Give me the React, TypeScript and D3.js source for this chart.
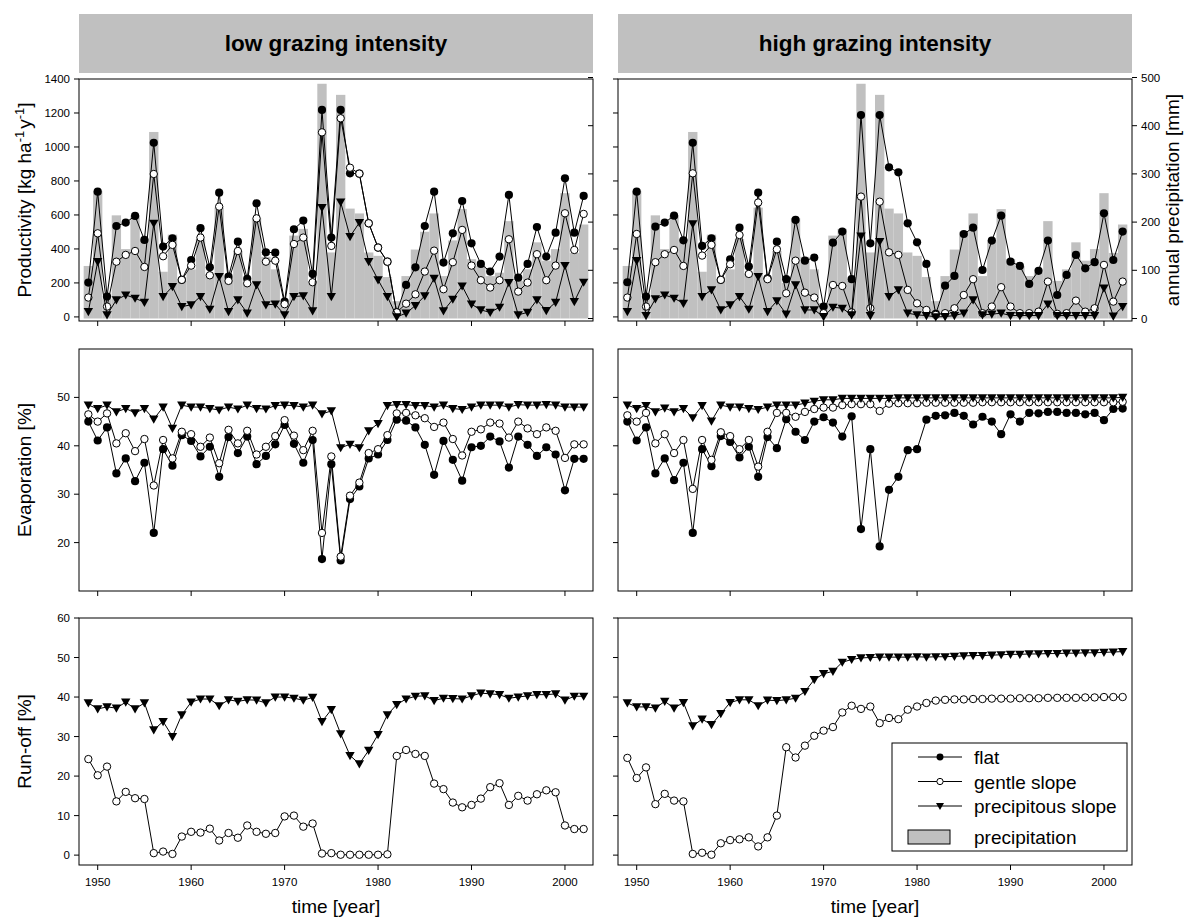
import React from "react";
import * as d3 from "d3";

// Years covered by the simulation
const years = d3.range(1949, 2003);

// Annual precipitation [mm] (same for both grazing scenarios)
const precipitation = [
  109, 265, 40, 214, 144, 214, 165, 387, 97, 174,
  78, 102, 165, 92, 230, 85, 140, 74, 208, 128,
  102, 32, 172, 186, 78, 487, 137, 464, 228, 218,
  137, 130, 86, 36, 88, 143, 180, 218, 88, 162,
  227, 123, 109, 88, 95, 202, 78, 102, 158, 120,
  144, 260, 136, 195,
];

// Productivity [kg ha-1 y-1], low grazing intensity
const prodFlatLow = [
  202, 737, 120, 535, 555, 594, 453, 1025, 414, 463,
  218, 335, 522, 292, 731, 237, 443, 224, 669, 380,
  378, 90, 516, 567, 253, 1218, 467, 1218, 845, 843,
  551, 408, 325, 27, 188, 292, 535, 737, 320, 492,
  682, 433, 312, 267, 355, 718, 231, 312, 529, 355,
  496, 816, 496, 712,
];
const prodGentleLow = [
  114, 492, 61, 325, 365, 388, 294, 841, 357, 424,
  218, 302, 467, 245, 649, 212, 388, 198, 580, 325,
  331, 75, 429, 467, 204, 1086, 418, 1169, 878, 843,
  551, 408, 325, 27, 78, 133, 267, 390, 163, 322,
  512, 302, 216, 173, 216, 457, 149, 202, 369, 216,
  302, 610, 394, 606,
];
const prodSteepLow = [
  31, 325, 12, 100, 129, 110, 86, 551, 120, 178,
  61, 71, 120, 45, 237, 31, 100, 22, 188, 71,
  75, 12, 120, 124, 35, 643, 120, 675, 473, 555,
  325, 218, 120, 0, 22, 67, 124, 227, 35, 104,
  182, 75, 41, 27, 57, 202, 12, 27, 100, 37,
  86, 302, 90, 204,
];

// Productivity [kg ha-1 y-1], high grazing intensity
const prodFlatHigh = [
  204, 737, 120, 531, 555, 596, 451, 1025, 418, 463,
  218, 339, 525, 296, 731, 227, 443, 222, 571, 331,
  349, 61, 437, 502, 222, 1188, 433, 1188, 880, 851,
  551, 439, 312, 18, 184, 241, 488, 525, 276, 449,
  596, 325, 300, 194, 271, 449, 129, 247, 365, 286,
  322, 610, 335, 502,
];
const prodGentleHigh = [
  114, 488, 61, 322, 369, 394, 300, 845, 361, 424,
  218, 310, 482, 253, 673, 222, 398, 139, 331, 143,
  114, 22, 188, 182, 27, 708, 51, 678, 380, 365,
  159, 80, 41, 12, 22, 51, 129, 222, 22, 61,
  175, 61, 22, 22, 31, 208, 18, 22, 96, 31,
  51, 306, 90, 208,
];
const prodSteepHigh = [
  31, 331, 8, 106, 129, 110, 80, 547, 120, 159,
  41, 71, 120, 45, 237, 31, 94, 16, 188, 41,
  41, 2, 57, 51, 12, 476, 8, 443, 120, 159,
  22, 12, 8, 0, 2, 8, 22, 100, 12, 16,
  22, 8, 8, 8, 8, 75, 8, 8, 8, 8,
  8, 170, 5, 61,
];

// Evaporation [%], low grazing intensity
const evapFlatLow = [
  45.0, 41.1, 43.8, 34.3, 37.4, 32.7, 36.5, 22.0, 39.3, 35.9,
  42.2, 41.0, 37.8, 39.8, 33.6, 41.8, 38.5, 41.9, 36.2, 37.9,
  40.3, 44.3, 40.4, 36.5, 41.2, 16.6, 36.2, 16.3, 29.0, 31.6,
  37.4, 38.2, 41.2, 45.4, 45.2, 43.8, 40.2, 34.0, 41.0, 37.1,
  32.8, 39.7, 40.0, 41.9, 40.9, 35.5, 41.9, 40.2, 37.9, 39.7,
  38.2, 30.8, 37.3, 37.3,
];
const evapGentleLow = [
  46.5, 45.0, 46.7, 40.5, 42.6, 38.9, 41.4, 31.8, 41.2, 37.4,
  42.9, 42.4, 39.8, 41.7, 36.4, 43.3, 40.5, 43.1, 38.2, 39.8,
  42.0, 45.3, 42.1, 39.1, 43.1, 22.0, 37.8, 17.1, 29.7, 32.4,
  38.5, 39.3, 42.2, 46.7, 46.8, 46.3, 45.7, 43.9, 44.8, 41.4,
  38.0, 42.9, 43.4, 44.8, 44.6, 41.7, 45.0, 43.6, 42.4, 43.8,
  43.1, 37.5, 40.3, 40.3,
];
const evapSteepLow = [
  48.4, 47.7, 48.4, 47.0, 47.7, 46.8, 47.7, 45.5, 48.0, 43.6,
  48.4, 48.0, 48.0, 47.7, 47.4, 48.0, 47.6, 48.4, 47.7, 47.6,
  48.3, 48.4, 48.3, 48.0, 48.4, 46.6, 47.2, 39.6, 40.3, 39.6,
  43.1, 44.6, 48.3, 48.5, 48.5, 48.3, 48.3, 48.0, 48.4, 47.7,
  47.5, 48.0, 48.4, 48.4, 48.4, 48.0, 48.5, 48.4, 48.4, 48.5,
  48.4, 48.0, 48.0, 48.0,
];

// Evaporation [%], high grazing intensity
const evapFlatHigh = [
  45.0, 41.1, 43.8, 34.3, 37.4, 32.9, 36.5, 22.0, 39.3, 35.8,
  42.0, 40.8, 37.6, 39.8, 33.6, 41.8, 39.5, 45.5, 42.9, 41.2,
  45.0, 45.9, 44.8, 41.9, 46.1, 22.8, 39.3, 19.2, 30.9, 33.6,
  39.1, 39.3, 45.4, 46.2, 46.3, 46.8, 46.2, 44.4, 46.0, 45.0,
  42.4, 46.5, 45.0, 46.8, 46.7, 47.0, 47.0, 46.8, 46.8, 46.5,
  46.8, 45.3, 47.6, 47.7,
];
const evapGentleHigh = [
  46.3, 45.0, 46.8, 40.5, 42.4, 38.5, 41.2, 31.1, 41.2, 37.1,
  42.8, 42.0, 39.3, 41.2, 35.7, 42.9, 46.8, 46.8, 46.0, 47.0,
  47.6, 47.9, 47.9, 48.4, 48.6, 48.6, 48.6, 47.2, 48.7, 48.8,
  48.8, 48.8, 48.9, 48.9, 48.9, 48.9, 48.9, 48.9, 49.0, 49.0,
  49.0, 49.0, 49.0, 49.0, 49.0, 49.0, 49.0, 49.0, 49.0, 49.0,
  49.0, 49.0, 49.0, 49.1,
];
const evapSteepHigh = [
  48.4, 47.7, 48.3, 47.0, 47.8, 47.0, 47.7, 45.8, 48.3, 45.1,
  48.4, 48.0, 48.0, 47.7, 47.5, 48.0, 48.4, 48.4, 48.4, 48.8,
  49.2, 49.5, 49.5, 49.8, 49.8, 49.8, 49.8, 49.8, 49.8, 49.9,
  49.9, 49.9, 49.9, 49.9, 49.9, 49.9, 49.9, 49.9, 49.9, 49.9,
  49.9, 49.9, 49.9, 49.9, 49.9, 49.9, 49.9, 49.9, 49.9, 49.9,
  49.9, 49.9, 49.9, 50.0,
];

// Run-off [%], low grazing intensity
const runGentleLow = [
  24.3, 20.2, 22.4, 13.6, 16.0, 14.4, 14.2, 0.5, 0.9, 0.3,
  4.7, 5.9, 5.7, 6.7, 3.7, 5.6, 4.4, 7.5, 5.9, 5.4,
  5.6, 9.8, 10.0, 7.2, 8.0, 0.4, 0.5, 0.1, 0.1, 0.1,
  0.1, 0.1, 0.2, 25.1, 26.6, 25.6, 25.1, 18.1, 16.7, 13.3,
  12.1, 12.7, 14.3, 17.2, 18.2, 12.7, 15.0, 13.8, 15.4, 16.4,
  15.9, 7.5, 6.6, 6.6,
];
const runSteepLow = [
  38.5, 37.0, 37.5, 37.2, 38.7, 37.0, 38.5, 31.7, 33.8, 30.0,
  35.5, 38.7, 39.5, 39.5, 37.8, 39.3, 38.9, 39.3, 39.2, 38.5,
  40.0, 40.0, 39.7, 39.2, 39.9, 33.8, 36.8, 30.7, 25.2, 23.1,
  26.5, 30.5, 35.5, 38.1, 39.5, 40.2, 40.3, 39.1, 39.7, 39.6,
  39.5, 40.3, 41.0, 40.8, 40.6, 39.7, 40.0, 40.3, 40.6, 40.6,
  40.8, 39.2, 40.2, 40.2,
];

// Run-off [%], high grazing intensity
const runGentleHigh = [
  24.6, 19.5, 22.2, 12.9, 15.5, 13.8, 13.6, 0.3, 0.6, 0.1,
  3.0, 3.8, 4.0, 4.5, 2.2, 4.5, 10.0, 27.3, 24.7, 27.7,
  30.2, 31.5, 32.4, 36.1, 37.8, 37.0, 37.6, 33.4, 34.7, 34.4,
  36.8, 37.6, 38.5, 39.1, 39.3, 39.4, 39.4, 39.5, 39.5, 39.6,
  39.6, 39.6, 39.7, 39.7, 39.7, 39.8, 39.8, 39.8, 39.8, 39.9,
  39.9, 40.0, 40.0, 40.0,
];
const runSteepHigh = [
  38.5, 37.5, 37.5, 37.2, 38.9, 37.2, 38.6, 32.7, 34.4, 33.0,
  35.8, 38.6, 39.3, 39.3, 37.8, 39.2, 39.1, 39.3, 39.7, 41.4,
  44.4, 45.9, 46.5, 48.8, 49.5, 49.9, 50.0, 50.1, 50.1, 50.1,
  50.1, 50.2, 50.1, 50.2, 50.2, 50.3, 50.4, 50.5, 50.5, 50.6,
  50.7, 50.8, 50.8, 50.9, 50.9, 51.0, 51.0, 51.1, 51.1, 51.2,
  51.2, 51.3, 51.4, 51.5,
];

// Axis ticks
const yearTicks = [1950, 1960, 1970, 1980, 1990, 2000];
const productivityTicks = [0, 200, 400, 600, 800, 1000, 1200, 1400];
const precipitationTicks = [0, 100, 200, 300, 400, 500];
const evaporationTicks = [20, 30, 40, 50];
const runoffTicks = [0, 10, 20, 30, 40, 50, 60];

const FONT = "'Liberation Sans', Arial, Helvetica, sans-serif";
const GREY = "#c0c0c0";

type Kind = "flat" | "gentle" | "steep";

const columns = [
  {
    title: "low grazing intensity",
    x0: 79,
    x1: 593,
    prod: [prodFlatLow, prodGentleLow, prodSteepLow],
    evap: [evapFlatLow, evapGentleLow, evapSteepLow],
    run: [runGentleLow, runSteepLow],
  },
  {
    title: "high grazing intensity",
    x0: 618,
    x1: 1132,
    prod: [prodFlatHigh, prodGentleHigh, prodSteepHigh],
    evap: [evapFlatHigh, evapGentleHigh, evapSteepHigh],
    run: [runGentleHigh, runSteepHigh],
  },
];

const rowTop = { y0: 79, y1: 321 };
const rowMid = { y0: 349, y1: 591 };
const rowBot = { y0: 618, y1: 865 };

const prodY = d3.scaleLinear().domain([-24, 1400]).range([rowTop.y1, rowTop.y0]);
const precY = d3.scaleLinear().domain([0, 500]).range([318.5, 77.5]);
const evapY = d3.scaleLinear().domain([10, 60]).range([rowMid.y1, rowMid.y0]);
const runY = d3.scaleLinear().domain([-2.5, 60]).range([rowBot.y1, rowBot.y0]);

function Marker({ kind, x, y, s = 1 }: { kind: Kind; x: number; y: number; s?: number }) {
  if (kind === "flat") return <circle cx={x} cy={y} r={4.1 * s} fill="#000" />;
  if (kind === "gentle")
    return <circle cx={x} cy={y} r={3.7 * s} fill="#fff" stroke="#000" strokeWidth={1} />;
  const w = 4.7 * s;
  return (
    <path
      d={`M${x - w},${y - 3.6 * s}L${x + w},${y - 3.6 * s}L${x},${y + 4.6 * s}Z`}
      fill="#000"
    />
  );
}

function Series({
  values,
  kind,
  xs,
  ys,
}: {
  values: number[];
  kind: Kind;
  xs: d3.ScaleLinear<number, number>;
  ys: d3.ScaleLinear<number, number>;
}) {
  const line = d3
    .line<number>()
    .x((_, i) => xs(years[i]))
    .y((v) => ys(v));
  return (
    <g>
      <path d={line(values) || ""} fill="none" stroke="#000" strokeWidth={1} />
      {values.map((v, i) => (
        <Marker key={i} kind={kind} x={xs(years[i])} y={ys(v)} />
      ))}
    </g>
  );
}

function Frame({ x0, x1, y0, y1 }: { x0: number; x1: number; y0: number; y1: number }) {
  return <rect x={x0} y={y0} width={x1 - x0} height={y1 - y0} fill="none" stroke="#000" strokeWidth={1} />;
}

function LeftTicks({
  x,
  ys,
  ticks,
  labels,
}: {
  x: number;
  ys: d3.ScaleLinear<number, number>;
  ticks: number[];
  labels: boolean;
}) {
  return (
    <g>
      {ticks.map((t) => (
        <g key={t}>
          <line x1={x - 5} x2={x} y1={ys(t)} y2={ys(t)} stroke="#000" strokeWidth={1} />
          {labels && (
            <text x={x - 9} y={ys(t)} dy="0.35em" textAnchor="end" fontSize={11.5} fontFamily={FONT}>
              {t}
            </text>
          )}
        </g>
      ))}
    </g>
  );
}

function BottomTicks({
  xs,
  y,
  labels,
}: {
  xs: d3.ScaleLinear<number, number>;
  y: number;
  labels: boolean;
}) {
  return (
    <g>
      {yearTicks.map((t) => (
        <g key={t}>
          <line x1={xs(t)} x2={xs(t)} y1={y} y2={y + 5} stroke="#000" strokeWidth={1} />
          {labels && (
            <text x={xs(t)} y={y + 21} textAnchor="middle" fontSize={11.5} fontFamily={FONT}>
              {t}
            </text>
          )}
        </g>
      ))}
    </g>
  );
}

const kinds: Kind[] = ["flat", "gentle", "steep"];

export default function App() {
  return (
    <div style={{ position: "absolute", left: 0, top: 0 }}>
      <svg width={1187} height={924} style={{ display: "block", background: "#fff" }} fontFamily={FONT}>
        {columns.map((col, ci) => {
          const xs = d3.scaleLinear().domain([1948, 2003]).range([col.x0, col.x1]);
          const cx = (col.x0 + col.x1) / 2;
          return (
            <g key={ci}>
              {/* header */}
              <rect x={col.x0} y={14} width={col.x1 - col.x0} height={59} fill={GREY} />
              <text x={cx} y={51} textAnchor="middle" fontSize={22.5} fontWeight="bold">
                {col.title}
              </text>

              {/* productivity with precipitation bars */}
              {precipitation.map((p, i) => (
                <rect
                  key={i}
                  x={xs(years[i] - 0.5)}
                  y={precY(p)}
                  width={xs(years[i] + 0.5) - xs(years[i] - 0.5)}
                  height={precY(0) - precY(p)}
                  fill={GREY}
                />
              ))}
              {col.prod.map((vals, k) => (
                <Series key={k} values={vals} kind={kinds[k]} xs={xs} ys={prodY} />
              ))}
              <Frame x0={col.x0} x1={col.x1} y0={rowTop.y0} y1={rowTop.y1} />
              <LeftTicks x={col.x0} ys={prodY} ticks={productivityTicks} labels={ci === 0} />
              <BottomTicks xs={xs} y={rowTop.y1} labels={false} />
              {ci === 0 ? (
                <g>
                  {precipitationTicks.map((t) => (
                    <line key={t} x1={col.x1 - 5} x2={col.x1} y1={precY(t)} y2={precY(t)} stroke="#000" />
                  ))}
                </g>
              ) : (
                <g>
                  {precipitationTicks.map((t) => (
                    <g key={t}>
                      <line x1={col.x1} x2={col.x1 + 5} y1={precY(t)} y2={precY(t)} stroke="#000" />
                      <text x={col.x1 + 9} y={precY(t)} dy="0.35em" fontSize={11.5}>
                        {t}
                      </text>
                    </g>
                  ))}
                </g>
              )}

              {/* evaporation */}
              {col.evap.map((vals, k) => (
                <Series key={k} values={vals} kind={kinds[k]} xs={xs} ys={evapY} />
              ))}
              <Frame x0={col.x0} x1={col.x1} y0={rowMid.y0} y1={rowMid.y1} />
              <LeftTicks x={col.x0} ys={evapY} ticks={evaporationTicks} labels={ci === 0} />
              <BottomTicks xs={xs} y={rowMid.y1} labels={false} />

              {/* run-off */}
              {col.run.map((vals, k) => (
                <Series key={k} values={vals} kind={kinds[k + 1]} xs={xs} ys={runY} />
              ))}
              <Frame x0={col.x0} x1={col.x1} y0={rowBot.y0} y1={rowBot.y1} />
              <LeftTicks x={col.x0} ys={runY} ticks={runoffTicks} labels={ci === 0} />
              <BottomTicks xs={xs} y={rowBot.y1} labels={true} />

              <text x={cx} y={913} textAnchor="middle" fontSize={19}>
                time [year]
              </text>
            </g>
          );
        })}

        {/* axis titles */}
        <text transform={`translate(31,${(rowTop.y0 + rowTop.y1) / 2}) rotate(-90)`} textAnchor="middle" fontSize={19}>
          Productivity [kg ha
          <tspan dy={-7} fontSize={13}>-1</tspan>
          <tspan dy={7} dx={2}>y</tspan>
          <tspan dy={-7} fontSize={13}>-1</tspan>
          <tspan dy={7}>]</tspan>
        </text>
        <text transform={`translate(31,${(rowMid.y0 + rowMid.y1) / 2}) rotate(-90)`} textAnchor="middle" fontSize={19}>
          Evaporation [%]
        </text>
        <text transform={`translate(31,${(rowBot.y0 + rowBot.y1) / 2}) rotate(-90)`} textAnchor="middle" fontSize={19}>
          Run-off [%]
        </text>
        <text transform={`translate(1179,${(rowTop.y0 + rowTop.y1) / 2}) rotate(-90)`} textAnchor="middle" fontSize={19}>
          annual precipitation [mm]
        </text>

        {/* legend */}
        <g>
          <rect x={892} y={743} width={235} height={108} fill="#fff" stroke="#000" strokeWidth={1} />
          {(["flat", "gentle slope", "precipitous slope"] as const).map((label, i) => {
            const y = 757 + i * 24.5;
            return (
              <g key={label}>
                <line x1={918} x2={962} y1={y} y2={y} stroke="#000" strokeWidth={1} />
                <Marker kind={kinds[i]} x={940} y={y} s={0.85} />
                <text x={974} y={y + 7} fontSize={19}>
                  {label}
                </text>
              </g>
            );
          })}
          <rect x={908} y={830} width={42} height={14} fill={GREY} stroke="#000" strokeWidth={1} />
          <text x={974} y={844} fontSize={19}>
            precipitation
          </text>
        </g>
      </svg>
    </div>
  );
}
